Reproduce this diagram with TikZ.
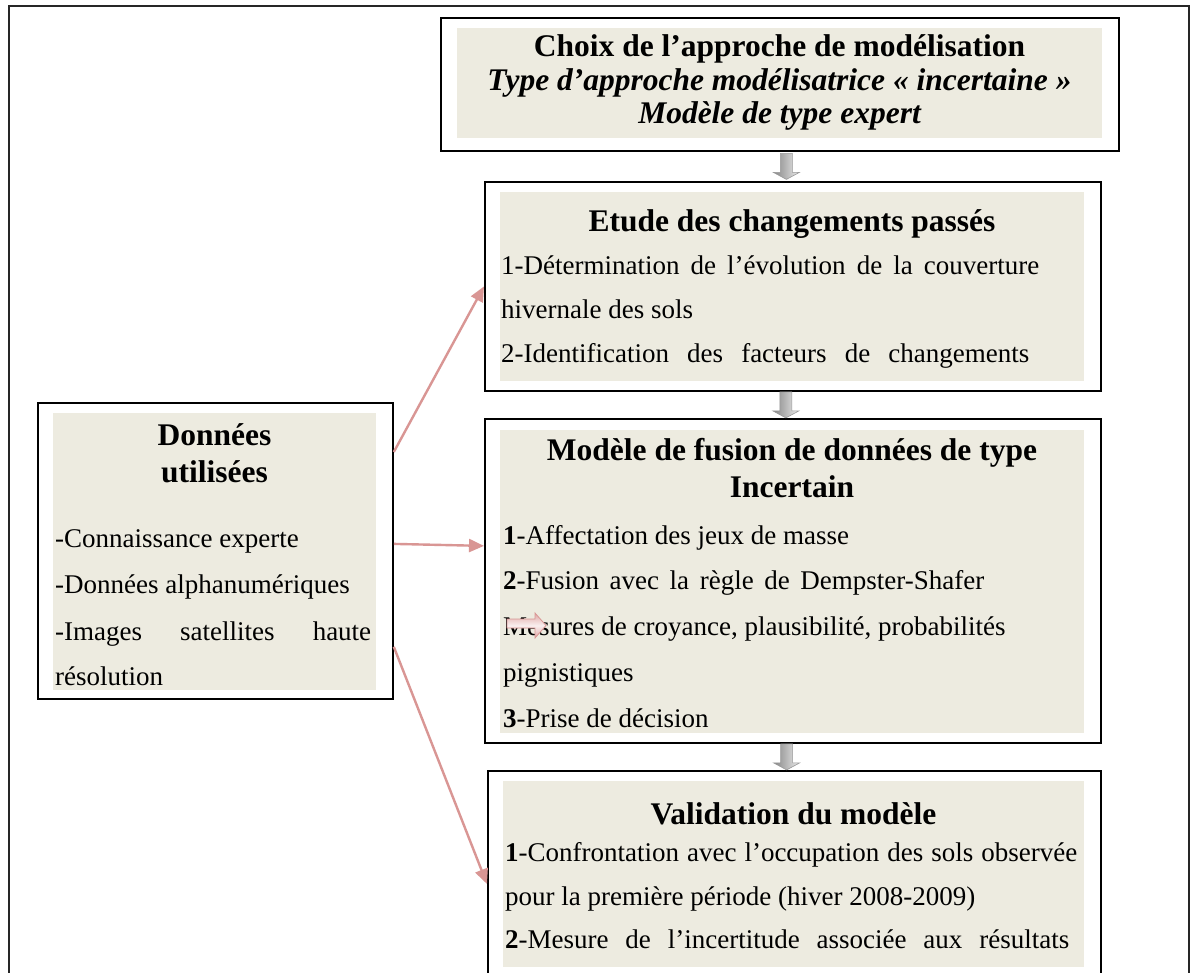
\documentclass[tikz,border=0pt]{standalone}
\usepackage{fontspec}
\setmainfont{Liberation Serif}
\usetikzlibrary{calc,arrows.meta}
\definecolor{panelc}{RGB}{237,235,224}
\definecolor{pinkc}{RGB}{217,150,148}
\newcommand\bodyf{\fontsize{27pt}{32pt}\selectfont}
\newcommand\titlef{\fontsize{31.5pt}{36pt}\selectfont\bfseries}
\tikzset{
  framebox/.style={draw=black, line width=1.8pt, inner sep=0pt, anchor=north west, fill=white},
  panel/.style={fill=panelc, draw=none, inner sep=0pt, anchor=north west},
  bodytxt/.style={inner sep=0pt, anchor=base west, font=\bodyf},
  titletxt/.style={inner sep=0pt, anchor=base, font=\titlef},
  pinkarrow/.style={draw=pinkc, line width=2.4pt, -{Triangle[length=15pt,width=13pt]}},
  grayarr/.style={left color=gray!95, right color=gray!15, draw=gray!80, line width=0.6pt},
  pics/downarrow/.style={code={\path[grayarr] (-6,-13) -- (6,-13) -- (6,6) -- (13,6) -- (0,13) -- (-13,6) -- (-6,6) -- cycle;}}
}
\begin{document}
\begin{tikzpicture}[x=1pt,y=-1pt]
\clip (0,0) rectangle (1194,973);
\fill[white] (0,0) rectangle (1194,973);
% outer frame
\draw[line width=2pt, black!85] (9,980) -- (9,6) -- (1189,6) -- (1189,980);

% boxes
\node[framebox, minimum width=678pt, minimum height=133pt] (A) at (440,17) {};
\node[panel, minimum width=645pt, minimum height=110pt] (Af) at (457,28) {};
\node[framebox, minimum width=616pt, minimum height=209pt] (B) at (484,181) {};
\node[panel, minimum width=584pt, minimum height=189pt] (Bf) at (500,192) {};
\node[framebox, minimum width=616pt, minimum height=324pt] (C) at (484,418) {};
\node[panel, minimum width=584pt, minimum height=303pt] (Cf) at (500,430) {};
\node[framebox, minimum width=613pt, minimum height=240pt] (D) at (487,770) {};
\node[panel, minimum width=581pt, minimum height=186pt] (Df) at (503,781) {};
\node[framebox, minimum width=355pt, minimum height=296pt] (E) at (37,402) {};
\node[panel, minimum width=323pt, minimum height=277pt] (Ef) at (53,413) {};

% box A text
\node[titletxt] (a1) at (779.5,57) {Choix de l’approche de modélisation};
\node[titletxt] (a2) at (779.5,91) {\itshape Type d’approche modélisatrice «~incertaine~»};
\node[titletxt] (a3) at (779.5,124) {\itshape Modèle de type expert};

% box B text
\node[titletxt] (b0) at (792,232) {Etude des changements passés};
\node[bodytxt] (b1) at (501,275) {\hbox to 538pt{1-Détermination de l’évolution de la couverture}};
\node[bodytxt] (b2) at (501,319) {hivernale des sols};
\node[bodytxt] (b3) at (501,363) {\hbox to 528pt{2-Identification des facteurs de changements}};

% box C text
\node[titletxt] (c0) at (792,460) {Modèle de fusion de données de type};
\node[titletxt] (c0b) at (792,497) {Incertain};
\node[bodytxt] (c1) at (503,544) {\textbf{1}-Affectation des jeux de masse};
\node[bodytxt] (c2) at (503,589) {\hbox to 481pt{\textbf{2}-Fusion avec la règle de Dempster-Shafer}};
\node[bodytxt] (c3) at (503,635) {Mesures de croyance, plausibilité, probabilités};
\node[bodytxt] (c4) at (503,681) {pignistiques};
\node[bodytxt] (c5) at (503,727) {\textbf{3}-Prise de décision};

% box D text
\node[titletxt] (d0) at (793.5,824) {Validation du modèle};
\node[bodytxt] (d1) at (505,861) {\hbox to 572pt{\textbf{1}-Confrontation avec l’occupation des sols observée}};
\node[bodytxt] (d2) at (505,905) {pour la première période (hiver 2008-2009)};
\node[bodytxt] (d3) at (505,948) {\hbox to 564pt{\textbf{2}-Mesure de l’incertitude associée aux résultats}};

% box E text
\node[titletxt] (e0) at (214.5,446) {Données};
\node[titletxt] (e0b) at (214.5,482) {utilisées};
\node[bodytxt] (e1) at (55,547) {-Connaissance experte};
\node[bodytxt] (e2) at (55,593) {-Données alphanumériques};
\node[bodytxt] (e3) at (55,640) {\hbox to 316pt{-Images\hfill satellites\hfill haute}};
\node[bodytxt] (e4) at (55,685) {résolution};

% small pink block arrow over "Mesures"
\path[draw=pinkc, line width=0.8pt, top color=pinkc!85, bottom color=pinkc!85, middle color=white!85!pinkc]
  (507,619) -- (535,619) -- (535,613) -- (546,625.5) -- (535,638) -- (535,628) -- (507,628) -- cycle;

% gray connector arrows
\pic at ($(A.south)!0.5!(B.north)$) {downarrow};
\pic at ($(B.south)!0.5!(C.north)+(-7,0)$) {downarrow};
\pic at ($(C.south)!0.5!(D.north)+(-7,0)$) {downarrow};

% pink connectors
\draw[pinkarrow] ($(E.north east)+(0,50)$) -- (B.west);
\draw[pinkarrow] ($(E.east)+(0,-7)$) -- ($(C.west)+(0,-35)$);
\draw[pinkarrow] ($(E.south east)+(0,-53)$) -- ($(D.north west)+(0,114)$);
\end{tikzpicture}
\end{document}
